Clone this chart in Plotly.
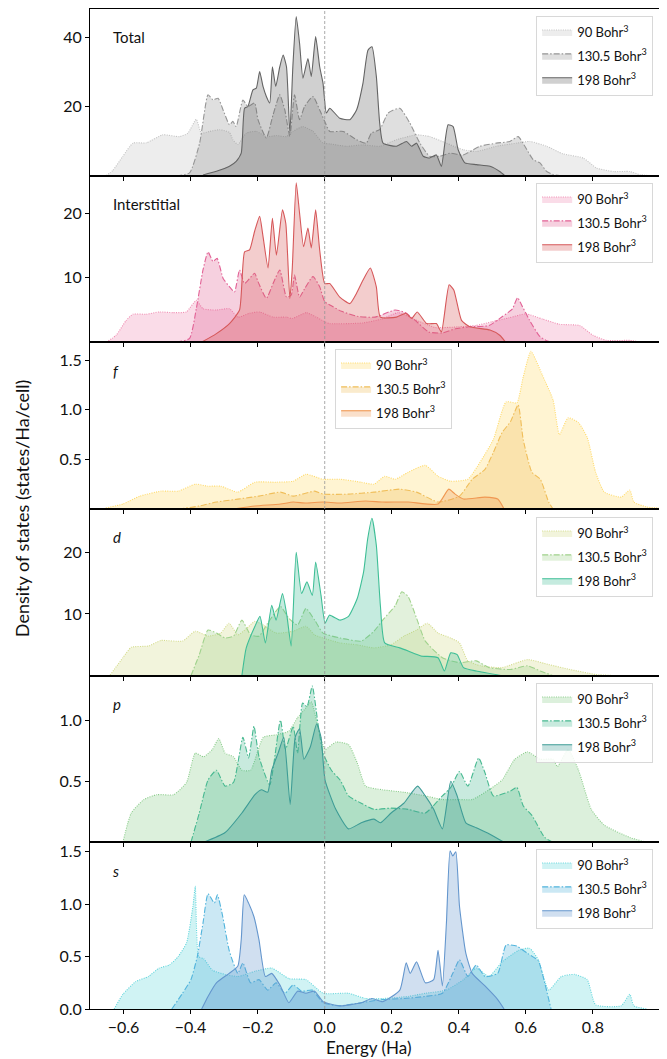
import plotly.graph_objects as go
from plotly.subplots import make_subplots

# ---------------- data (Energy in Ha, DOS in states/Ha/cell) ----------------
TOT_90_X = [-0.652, -0.632, -0.602, -0.572, -0.532, -0.483, -0.433, -0.408, -0.383, -0.368, -0.343, -0.313, -0.284, -0.274, -0.259, -0.234, -0.204, -0.174, -0.144, -0.114, -0.095, -0.065, -0.035, -0.005, 0.015, 0.065, 0.114, 0.164, 0.214, 0.274, 0.313, 0.363, 0.413, 0.453, 0.512, 0.572, 0.612, 0.662, 0.711, 0.771, 0.811, 0.861, 0.910, 0.940, 0.970]
TOT_90_Y = [0, 1.5, 5.6, 9.4, 9.5, 11.8, 11.3, 12.3, 16.3, 12.3, 12.8, 13.3, 12.5, 10.4, 9.0, 12.3, 12.8, 11.3, 11.6, 11.3, 12.8, 14.2, 12.8, 9.4, 9.2, 8.5, 8.9, 8.5, 10.4, 11.8, 11.3, 9.4, 7.5, 7.0, 8.5, 9.4, 9.9, 8.5, 6.3, 5.1, 2.2, 1.2, 1.2, 0.3, 0]
TOT_130_X = [-0.443, -0.403, -0.373, -0.348, -0.333, -0.318, -0.303, -0.284, -0.274, -0.264, -0.244, -0.229, -0.209, -0.199, -0.174, -0.154, -0.134, -0.119, -0.104, -0.090, -0.075, -0.060, -0.035, -0.015, 0.0, 0.015, 0.055, 0.095, 0.124, 0.139, 0.164, 0.189, 0.224, 0.254, 0.284, 0.313, 0.343, 0.373, 0.413, 0.463, 0.512, 0.552, 0.577, 0.597, 0.622, 0.642, 0.662, 0.682, 0.701]
TOT_130_Y = [0, 0.8, 9.4, 23.4, 21.9, 22.4, 19.0, 14.7, 15.7, 14.2, 21.9, 20.0, 21.0, 16.2, 10.9, 17.6, 23.4, 19.0, 11.3, 23.4, 16.2, 20.0, 22.9, 19.0, 15.7, 12.8, 12.8, 10.4, 9.4, 12.3, 13.3, 18.1, 19.5, 15.2, 9.4, 5.6, 5.6, 6.5, 6.0, 8.5, 9.4, 9.9, 11.3, 8.5, 4.6, 3.7, 1.2, 0.3, 0]
TOT_198_X = [-0.363, -0.323, -0.284, -0.264, -0.249, -0.239, -0.229, -0.214, -0.204, -0.194, -0.184, -0.174, -0.164, -0.156, -0.146, -0.134, -0.124, -0.114, -0.104, -0.095, -0.085, -0.075, -0.065, -0.050, -0.040, -0.027, -0.015, -0.005, 0.005, 0.015, 0.045, 0.075, 0.095, 0.114, 0.129, 0.141, 0.154, 0.164, 0.174, 0.214, 0.244, 0.259, 0.274, 0.294, 0.313, 0.333, 0.348, 0.368, 0.383, 0.398, 0.418, 0.453, 0.493, 0.522, 0.537]
TOT_198_Y = [0.2, 1.25, 2.7, 4.1, 6.5, 19.5, 20.0, 24.8, 25.3, 30.1, 25.8, 22.9, 21.0, 31.5, 25.8, 31.5, 34.9, 31.5, 12.3, 31.5, 46.0, 38.3, 28.2, 33.9, 28.7, 40.2, 31.5, 26.7, 18.1, 19.5, 16.6, 16.2, 19.0, 26.7, 36.3, 37.3, 28.7, 15.2, 9.4, 8.5, 9.9, 8.5, 9.4, 5.6, 5.1, 6.0, 2.7, 14.7, 14.2, 7.5, 3.7, 3.2, 2.7, 1.2, 0]

INT_90_X = [-0.652, -0.622, -0.592, -0.572, -0.532, -0.493, -0.453, -0.413, -0.383, -0.363, -0.323, -0.284, -0.259, -0.224, -0.194, -0.154, -0.114, -0.095, -0.055, -0.025, 0.0, 0.015, 0.114, 0.17, 0.22, 0.27, 0.33, 0.40, 0.45, 0.50, 0.55, 0.60, 0.65, 0.70, 0.76, 0.80, 0.84, 0.91, 0.95]
INT_90_Y = [0, 1.1, 3.4, 4.35, 4.35, 4.7, 4.6, 4.7, 6.5, 5.2, 5.0, 5.2, 3.9, 4.5, 4.7, 3.9, 3.9, 3.7, 4.6, 3.9, 3.2, 2.9, 3.0, 3.6, 4.6, 3.5, 2.3, 2.4, 2.6, 3.2, 3.8, 4.4, 3.6, 2.8, 2.6, 1.1, 0.3, 0.3, 0]
INT_130_X = [-0.443, -0.403, -0.383, -0.363, -0.348, -0.333, -0.321, -0.303, -0.284, -0.269, -0.254, -0.239, -0.209, -0.199, -0.174, -0.154, -0.134, -0.114, -0.100, -0.090, -0.075, -0.060, -0.035, -0.015, 0.0, 0.025, 0.05, 0.10, 0.15, 0.21, 0.24, 0.27, 0.31, 0.35, 0.39, 0.43, 0.49, 0.53, 0.56, 0.575, 0.59, 0.61, 0.64, 0.66, 0.68]
INT_130_Y = [0, 0.6, 5.2, 11.2, 14.0, 12.5, 13.0, 9.9, 8.6, 7.8, 11.2, 9.1, 10.7, 9.4, 6.8, 9.1, 11.2, 7.0, 7.3, 10.4, 7.0, 8.3, 10.2, 8.6, 6.3, 5.5, 4.8, 4.0, 3.9, 5.0, 4.6, 3.4, 1.6, 1.45, 2.1, 2.4, 2.6, 4.0, 5.2, 6.9, 5.5, 3.5, 1.0, 0.3, 0]
INT_198_X = [-0.368, -0.323, -0.284, -0.254, -0.239, -0.224, -0.209, -0.194, -0.184, -0.169, -0.156, -0.144, -0.126, -0.116, -0.104, -0.097, -0.085, -0.075, -0.063, -0.050, -0.040, -0.027, -0.015, 0.0, 0.015, 0.045, 0.075, 0.095, 0.114, 0.136, 0.154, 0.166, 0.214, 0.242, 0.259, 0.276, 0.304, 0.333, 0.348, 0.371, 0.385, 0.408, 0.433, 0.493, 0.522, 0.54]
INT_198_Y = [0, 1.35, 2.9, 5.0, 14.0, 14.3, 17.2, 19.5, 16.4, 11.5, 19.2, 13.5, 20.5, 18.4, 6.8, 11.2, 24.7, 20.0, 14.8, 17.7, 14.6, 20.5, 14.3, 9.1, 9.1, 7.0, 6.0, 7.6, 9.6, 11.5, 8.6, 3.9, 3.9, 4.5, 3.7, 4.7, 2.9, 2.9, 1.6, 8.9, 8.1, 3.4, 2.4, 1.9, 1.1, 0]

F_90_X = [-0.653, -0.602, -0.551, -0.488, -0.437, -0.386, -0.348, -0.310, -0.259, -0.208, -0.145, -0.094, -0.056, -0.005, 0.046, 0.109, 0.147, 0.179, 0.211, 0.249, 0.300, 0.338, 0.376, 0.427, 0.465, 0.503, 0.541, 0.573, 0.592, 0.615, 0.649, 0.681, 0.700, 0.726, 0.757, 0.783, 0.808, 0.834, 0.884, 0.910, 0.922, 0.961, 1.0]
F_90_Y = [0.01, 0.05, 0.13, 0.18, 0.18, 0.25, 0.23, 0.23, 0.17, 0.27, 0.27, 0.28, 0.35, 0.30, 0.30, 0.27, 0.25, 0.33, 0.30, 0.37, 0.44, 0.33, 0.28, 0.30, 0.48, 0.70, 1.08, 1.07, 1.33, 1.59, 1.35, 1.10, 0.75, 0.92, 0.87, 0.72, 0.37, 0.17, 0.12, 0.19, 0.07, 0.02, 0.01]
F_130_X = [-0.437, -0.374, -0.323, -0.259, -0.196, -0.132, -0.094, -0.030, -0.005, 0.071, 0.147, 0.224, 0.274, 0.338, 0.402, 0.440, 0.478, 0.503, 0.529, 0.554, 0.577, 0.592, 0.618, 0.643, 0.668, 0.681]
F_130_Y = [0, 0.03, 0.07, 0.10, 0.13, 0.17, 0.13, 0.18, 0.15, 0.15, 0.17, 0.20, 0.17, 0.07, 0.13, 0.30, 0.40, 0.57, 0.77, 0.88, 1.05, 0.70, 0.37, 0.30, 0.07, 0]
F_198_X = [-0.272, -0.208, -0.132, -0.094, -0.056, -0.005, 0.046, 0.122, 0.173, 0.249, 0.338, 0.370, 0.389, 0.414, 0.478, 0.516, 0.535]
F_198_Y = [0, 0.03, 0.05, 0.07, 0.06, 0.07, 0.06, 0.08, 0.07, 0.07, 0.05, 0.20, 0.15, 0.10, 0.12, 0.10, 0]

D_90_X = [-0.640, -0.602, -0.577, -0.526, -0.488, -0.424, -0.386, -0.348, -0.310, -0.285, -0.259, -0.234, -0.208, -0.183, -0.145, -0.094, -0.056, -0.030, -0.005, 0.046, 0.097, 0.147, 0.198, 0.236, 0.274, 0.306, 0.338, 0.376, 0.402, 0.427, 0.465, 0.529, 0.605, 0.668, 0.732, 0.808, 0.872]
D_90_Y = [0.1, 2.9, 4.6, 4.8, 5.7, 5.6, 7.2, 6.4, 6.9, 8.5, 6.6, 7.6, 8.8, 8.2, 6.9, 7.2, 8.0, 6.6, 6.1, 5.3, 5.0, 4.5, 5.0, 6.4, 7.4, 8.5, 6.9, 6.1, 5.3, 2.4, 1.6, 1.3, 2.6, 1.8, 1.0, 0.2, 0]
D_130_X = [-0.399, -0.374, -0.348, -0.323, -0.297, -0.272, -0.247, -0.221, -0.196, -0.170, -0.132, -0.107, -0.081, -0.056, -0.030, -0.005, 0.046, 0.109, 0.147, 0.173, 0.211, 0.230, 0.249, 0.274, 0.300, 0.351, 0.402, 0.452, 0.490, 0.554, 0.605, 0.643, 0.681]
D_130_Y = [0, 3.4, 7.4, 6.9, 6.1, 6.4, 9.0, 6.6, 6.4, 8.5, 11.2, 9.3, 8.2, 10.9, 9.0, 6.9, 6.1, 5.6, 7.2, 9.0, 11.4, 13.6, 12.8, 9.3, 5.6, 2.9, 2.1, 2.4, 1.3, 1.0, 1.6, 0.75, 0]
D_198_X = [-0.247, -0.234, -0.208, -0.193, -0.177, -0.158, -0.145, -0.126, -0.113, -0.100, -0.085, -0.069, -0.053, -0.037, -0.027, -0.011, 0.001, 0.014, 0.046, 0.071, 0.097, 0.116, 0.128, 0.141, 0.154, 0.166, 0.179, 0.224, 0.249, 0.287, 0.338, 0.357, 0.376, 0.395, 0.414, 0.452, 0.529]
D_198_Y = [0, 4.5, 8.0, 9.6, 5.3, 11.4, 9.0, 13.3, 9.8, 4.8, 20.0, 13.3, 15.2, 13.0, 18.4, 13.0, 8.5, 9.8, 9.0, 9.6, 12.5, 16.8, 22.1, 25.5, 21.1, 11.4, 5.3, 4.5, 4.0, 3.2, 2.9, 0.75, 3.7, 3.4, 1.3, 0.75, 0]

P_90_X = [-0.602, -0.577, -0.539, -0.501, -0.450, -0.412, -0.386, -0.361, -0.335, -0.316, -0.297, -0.272, -0.247, -0.221, -0.183, -0.145, -0.107, -0.081, -0.056, -0.040, -0.018, 0.001, 0.033, 0.071, 0.097, 0.122, 0.173, 0.236, 0.300, 0.351, 0.402, 0.440, 0.490, 0.529, 0.567, 0.605, 0.643, 0.681, 0.694, 0.726, 0.757, 0.795, 0.834, 0.910, 0.961]
P_90_Y = [0, 0.24, 0.35, 0.39, 0.39, 0.49, 0.73, 0.70, 0.76, 0.85, 0.73, 0.70, 0.59, 0.59, 0.86, 0.88, 0.91, 1.02, 1.10, 1.15, 0.92, 0.76, 0.82, 0.80, 0.65, 0.46, 0.43, 0.41, 0.38, 0.35, 0.35, 0.35, 0.43, 0.51, 0.68, 0.74, 0.68, 0.68, 0.62, 0.76, 0.59, 0.27, 0.14, 0.04, 0]
P_130_X = [-0.399, -0.374, -0.348, -0.323, -0.297, -0.272, -0.244, -0.227, -0.211, -0.196, -0.164, -0.132, -0.117, -0.094, -0.081, -0.066, -0.053, -0.037, -0.020, -0.005, 0.020, 0.046, 0.071, 0.109, 0.147, 0.198, 0.249, 0.300, 0.351, 0.376, 0.402, 0.427, 0.459, 0.478, 0.503, 0.554, 0.573, 0.592, 0.618, 0.656, 0.681]
P_130_Y = [0, 0.24, 0.51, 0.59, 0.46, 0.49, 0.86, 0.69, 0.95, 0.70, 0.47, 1.00, 0.76, 0.95, 0.73, 1.14, 1.11, 1.28, 0.97, 0.73, 0.59, 0.51, 0.38, 0.32, 0.27, 0.28, 0.27, 0.24, 0.38, 0.45, 0.58, 0.46, 0.69, 0.57, 0.38, 0.42, 0.45, 0.30, 0.22, 0.04, 0]
P_198_X = [-0.361, -0.297, -0.247, -0.208, -0.189, -0.170, -0.158, -0.139, -0.122, -0.103, -0.088, -0.075, -0.062, -0.043, -0.024, -0.011, 0.001, 0.033, 0.071, 0.109, 0.147, 0.166, 0.198, 0.236, 0.277, 0.300, 0.325, 0.351, 0.376, 0.395, 0.421, 0.452, 0.490, 0.535]
P_198_Y = [0, 0.08, 0.24, 0.39, 0.43, 0.41, 0.59, 0.73, 0.86, 0.31, 0.86, 0.93, 0.68, 0.78, 0.97, 0.86, 0.51, 0.27, 0.11, 0.16, 0.19, 0.16, 0.24, 0.32, 0.46, 0.38, 0.27, 0.11, 0.50, 0.38, 0.16, 0.12, 0.07, 0]

S_90_X = [-0.628, -0.602, -0.564, -0.526, -0.494, -0.463, -0.437, -0.412, -0.393, -0.386, -0.376, -0.361, -0.335, -0.297, -0.259, -0.208, -0.158, -0.107, -0.056, -0.005, 0.071, 0.122, 0.173, 0.249, 0.300, 0.363, 0.414, 0.452, 0.490, 0.529, 0.579, 0.611, 0.637, 0.668, 0.706, 0.745, 0.783, 0.808, 0.884, 0.910, 0.922, 0.961]
S_90_Y = [0, 0.14, 0.26, 0.31, 0.39, 0.42, 0.50, 0.63, 0.98, 1.17, 0.50, 0.48, 0.37, 0.33, 0.31, 0.36, 0.39, 0.29, 0.28, 0.15, 0.15, 0.10, 0.10, 0.12, 0.15, 0.18, 0.28, 0.39, 0.31, 0.45, 0.56, 0.58, 0.47, 0.18, 0.31, 0.33, 0.28, 0.04, 0.03, 0.14, 0.03, 0]
S_130_X = [-0.456, -0.424, -0.399, -0.380, -0.363, -0.348, -0.329, -0.320, -0.304, -0.285, -0.259, -0.244, -0.221, -0.196, -0.170, -0.145, -0.119, -0.094, -0.069, -0.037, -0.005, 0.046, 0.109, 0.173, 0.236, 0.300, 0.351, 0.382, 0.402, 0.427, 0.452, 0.478, 0.516, 0.541, 0.573, 0.605, 0.637, 0.656, 0.675]
S_130_Y = [0, 0.15, 0.28, 0.50, 0.82, 1.10, 1.01, 1.09, 0.88, 0.56, 0.34, 0.44, 0.25, 0.28, 0.18, 0.25, 0.15, 0.23, 0.17, 0.18, 0.06, 0.03, 0.06, 0.09, 0.10, 0.12, 0.15, 0.34, 0.47, 0.31, 0.42, 0.31, 0.34, 0.61, 0.60, 0.53, 0.46, 0.25, 0]
S_198_X = [-0.367, -0.348, -0.323, -0.285, -0.259, -0.249, -0.240, -0.227, -0.211, -0.196, -0.177, -0.158, -0.132, -0.107, -0.081, -0.056, -0.030, -0.005, 0.046, 0.109, 0.141, 0.173, 0.224, 0.243, 0.255, 0.274, 0.300, 0.325, 0.338, 0.351, 0.363, 0.374, 0.382, 0.391, 0.402, 0.421, 0.440, 0.478, 0.516, 0.535]
S_198_Y = [0, 0.12, 0.25, 0.34, 0.41, 0.66, 1.09, 1.01, 0.88, 0.66, 0.31, 0.34, 0.22, 0.06, 0.17, 0.15, 0.17, 0.07, 0.03, 0.06, 0.10, 0.07, 0.18, 0.44, 0.34, 0.45, 0.25, 0.28, 0.56, 0.22, 0.82, 1.51, 1.46, 1.50, 0.98, 0.53, 0.34, 0.22, 0.09, 0]

VOLUMES = ["90 Bohr<sup>3</sup>", "130.5 Bohr<sup>3</sup>", "198 Bohr<sup>3</sup>"]
PANEL_LABELS = ["Total", "Interstitial", "<i>f</i>", "<i>d</i>", "<i>p</i>", "<i>s</i>"]
X_TICKS = [-0.6, -0.4, -0.2, 0.0, 0.2, 0.4, 0.6, 0.8]
X_TICKTEXT = ["\u22120.6", "\u22120.4", "\u22120.2", "0.0", "0.2", "0.4", "0.6", "0.8"]
Y_TICKS = [[20, 40], [10, 20], [0.5, 1.0, 1.5], [10, 20], [0.5, 1.0], [0.0, 0.5, 1.0, 1.5]]
Y_TICKTEXT = [["20", "40"], ["10", "20"], ["0.5", "1.0", "1.5"], ["10", "20"], ["0.5", "1.0"], ["0.0", "0.5", "1.0", "1.5"]]
Y_MAX = [48.2, 25.8, 1.68, 27.0, 1.364, 1.59]

# ---------------- styling ----------------
PANELS = [
    [(TOT_90_X, TOT_90_Y), (TOT_130_X, TOT_130_Y), (TOT_198_X, TOT_198_Y)],
    [(INT_90_X, INT_90_Y), (INT_130_X, INT_130_Y), (INT_198_X, INT_198_Y)],
    [(F_90_X, F_90_Y), (F_130_X, F_130_Y), (F_198_X, F_198_Y)],
    [(D_90_X, D_90_Y), (D_130_X, D_130_Y), (D_198_X, D_198_Y)],
    [(P_90_X, P_90_Y), (P_130_X, P_130_Y), (P_198_X, P_198_Y)],
    [(S_90_X, S_90_Y), (S_130_X, S_130_Y), (S_198_X, S_198_Y)],
]
COLORS = [
    [(195, 195, 195), (150, 150, 150), (100, 100, 100)],
    [(240, 140, 178), (226, 98, 150), (214, 88, 90)],
    [(255, 218, 105), (240, 190, 90), (240, 152, 82)],
    [(212, 220, 140), (160, 210, 140), (62, 190, 150)],
    [(140, 205, 140), (72, 185, 145), (62, 156, 150)],
    [(100, 214, 220), (82, 180, 220), (100, 150, 205)],
]
DASHES = ["1px,1.3px", "6px,2px,1.5px,2px", "solid"]
FONT = "Lato, 'Open Sans', sans-serif"

fig = make_subplots(rows=6, cols=1, shared_xaxes=True, vertical_spacing=0)

legend_pos = [
    dict(x=0.988, y=0.993, xanchor="right"),
    dict(x=0.988, y=0.826, xanchor="right"),
    dict(x=0.43, y=0.660, xanchor="left"),
    dict(x=0.988, y=0.492, xanchor="right"),
    dict(x=0.988, y=0.326, xanchor="right"),
    dict(x=0.988, y=0.160, xanchor="right"),
]

for r, panel in enumerate(PANELS):
    lg = "legend" if r == 0 else f"legend{r + 1}"
    for k, (xs, ys) in enumerate(panel):
        c = COLORS[r][k]
        fig.add_trace(go.Scatter(
            x=xs, y=ys, mode="lines", name=VOLUMES[k],
            line=dict(color=f"rgb{c}", width=1.1, dash=DASHES[k], shape="spline", smoothing=0.5),
            fill="tozeroy", fillcolor=f"rgba({c[0]},{c[1]},{c[2]},0.3)",
            legend=lg, legendgroup=f"g{r}_{k}", showlegend=True,
        ), row=r + 1, col=1)
    pos = legend_pos[r]
    fig.update_layout({lg: dict(
        x=pos["x"], y=pos["y"], xanchor=pos["xanchor"], yanchor="top",
        bgcolor="rgba(255,255,255,0.85)", bordercolor="#d8d8d8", borderwidth=1,
        font=dict(family=FONT, size=13, color="#111"), itemwidth=30,
        tracegroupgap=4, traceorder="grouped",
    )})
    fig.update_yaxes(row=r + 1, col=1, range=[0, Y_MAX[r]], tickvals=Y_TICKS[r], ticktext=Y_TICKTEXT[r],
                     ticks="outside", ticklen=4, tickwidth=1, tickcolor="black",
                     showline=True, linecolor="black", linewidth=1, mirror=True,
                     showgrid=False, zeroline=False, tickfont=dict(family=FONT, size=16, color="#111"))
    fig.update_xaxes(row=r + 1, col=1, range=[-0.7, 1.0], tickvals=X_TICKS, ticktext=X_TICKTEXT,
                     ticks="outside", ticklen=4, tickwidth=1, tickcolor="black",
                     showline=True, linecolor="black", linewidth=1, mirror=True,
                     showgrid=False, zeroline=False, showticklabels=(r == 5),
                     tickfont=dict(family=FONT, size=16, color="#111"))
    xd = "x domain" if r == 0 else f"x{r + 1} domain"
    yd = "y domain" if r == 0 else f"y{r + 1} domain"
    fig.add_annotation(text=PANEL_LABELS[r], xref=xd, yref=yd, x=0.036, y=0.83,
                       xanchor="left", yanchor="middle", showarrow=False,
                       font=dict(family=FONT, size=15, color="#111"))

fig.add_shape(type="line", xref="x", yref="paper", x0=0, x1=0, y0=0, y1=1, layer="above",
              line=dict(color="rgba(150,150,150,0.8)", width=1, dash="3px,2px"))

fig.add_annotation(text="Density of states (states/Ha/cell)", xref="paper", yref="paper",
                   x=-0.119, y=0.5, textangle=-90, showarrow=False, xanchor="center", yanchor="middle",
                   font=dict(family=FONT, size=18, color="#111"))
fig.add_annotation(text="Energy (Ha)", xref="paper", yref="paper", x=0.49, y=-0.038,
                   showarrow=False, xanchor="center", yanchor="middle",
                   font=dict(family=FONT, size=17, color="#111"))

# the page body adds an 8px offset; the figure is sized so the plot area lands at x 90-660, y 9-1009
fig.update_layout(width=659, height=1051, margin=dict(l=82, r=7, t=1, b=50),
                  plot_bgcolor="white", paper_bgcolor="white", font=dict(family=FONT))

fig.write_html("out.html")
